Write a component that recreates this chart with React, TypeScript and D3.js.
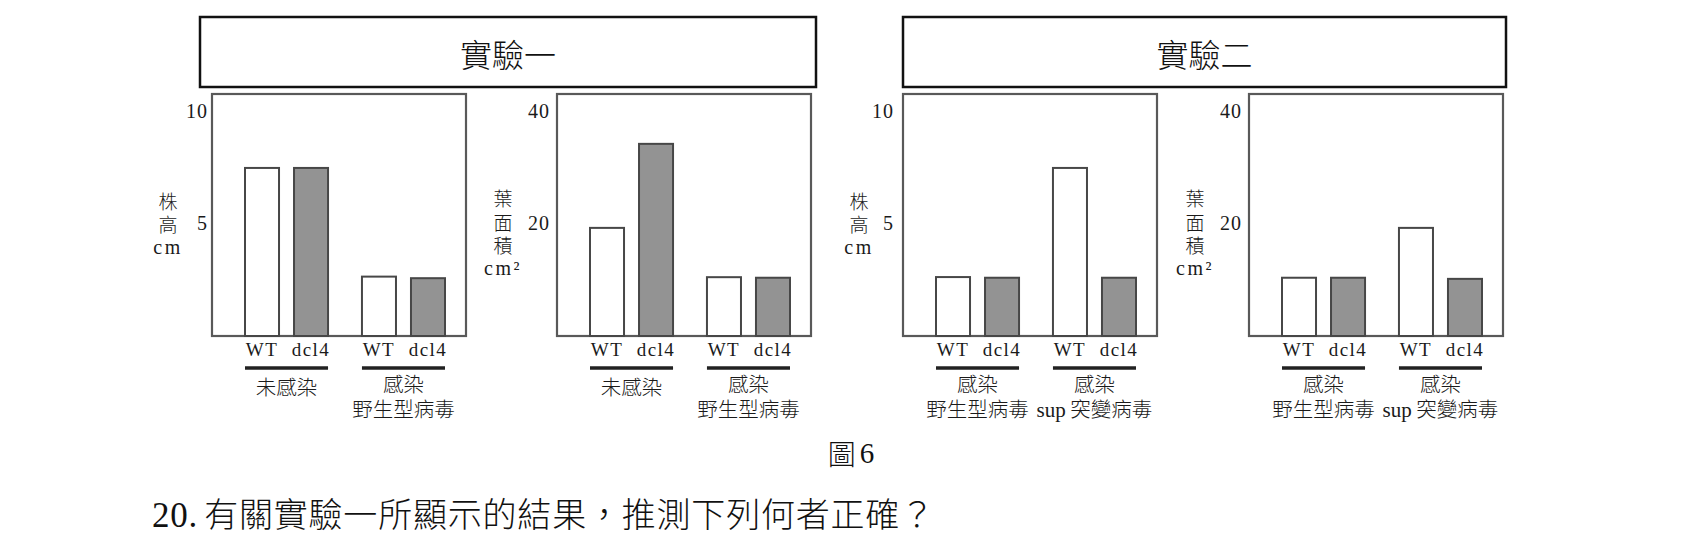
import React from "react";
import * as d3 from "d3";

// ---------- data ----------
const experimentTitles = ["實驗一", "實驗二"];
const genotypes = ["WT", "dcl4"];
const groupsExp1 = ["未感染", "感染\n野生型病毒"];
const groupsExp2 = ["感染\n野生型病毒", "感染\nsup 突變病毒"];
// values per group: [WT, dcl4]
const heightExp1 = [[7.5, 7.5], [2.65, 2.58]];
const leafExp1 = [[19.3, 34.3], [10.5, 10.4]];
const heightExp2 = [[2.63, 2.6], [7.5, 2.6]];
const leafExp2 = [[10.4, 10.4], [19.3, 10.2]];
const heightTicks = [5, 10];
const leafTicks = [20, 40];
const heightTitle = ["株", "高", "cm"];
const leafTitle = ["葉", "面", "積", "cm²"];
const figureLabel = "圖 6";
const questionText = "20. 有關實驗一所顯示的結果，推測下列何者正確？";

// ---------- layout ----------
const W = 1700;
const H = 539;
const frameTop = 94;
const frameBottom = 336;
const frameW = 254;
const SERIF = '"Liberation Serif", "Times New Roman", "Noto Sans CJK TC", serif';
const CJK = '"Noto Sans CJK TC", "Liberation Serif", sans-serif';

type Panel = {
  left: number;
  groups: string[];
  values: number[][];
  max: number;
  ticks: number[];
  title: string[];
  titleDx: number;
  titleYs: number[];
  tickGap: number;
};

const panels: Panel[] = [
  { left: 212, groups: groupsExp1, values: heightExp1, max: 10.8, ticks: heightTicks, title: heightTitle, titleDx: -44, titleYs: [202, 225, 247], tickGap: 4 },
  { left: 557, groups: groupsExp1, values: leafExp1, max: 43.2, ticks: leafTicks, title: leafTitle, titleDx: -54, titleYs: [199, 223, 246, 268], tickGap: 7 },
  { left: 903, groups: groupsExp2, values: heightExp2, max: 10.8, ticks: heightTicks, title: heightTitle, titleDx: -44, titleYs: [202, 225, 247], tickGap: 9 },
  { left: 1249, groups: groupsExp2, values: leafExp2, max: 43.2, ticks: leafTicks, title: leafTitle, titleDx: -54, titleYs: [199, 223, 246, 268], tickGap: 7 },
];

const titleBoxes = [
  { x0: 200, x1: 816 },
  { x0: 903, x1: 1506 },
];

function isCJK(s: string) {
  return /[\u3000-\u9fff\uff00-\uffef]/.test(s);
}

function PanelChart({ p }: { p: Panel }) {
  const y = d3.scaleLinear().domain([0, p.max]).range([frameBottom, frameTop]);
  const x0 = d3
    .scaleBand<number>()
    .domain(d3.range(p.groups.length))
    .range([p.left + 33, p.left + 233])
    .paddingInner(0.29);
  const x1 = d3
    .scaleBand<string>()
    .domain(genotypes)
    .range([0, x0.bandwidth()])
    .paddingInner(0.306);
  const tx = p.left + p.titleDx;

  return (
    <g>
      {/* frame */}
      <rect
        x={p.left}
        y={frameTop}
        width={frameW}
        height={frameBottom - frameTop}
        fill="#fff"
        stroke="#595959"
        strokeWidth={2.2}
      />
      {/* ticks */}
      {p.ticks.map((t) => (
        <text
          key={t}
          x={p.left - p.tickGap}
          y={y(t) - 1}
          textAnchor="end"
          dominantBaseline="central"
          fontFamily={SERIF}
          fontSize={20}
          letterSpacing={1}
          fill="#1a1a1a"
        >
          {t}
        </text>
      ))}
      {/* axis title (stacked) */}
      <text textAnchor="middle" fill="#1a1a1a" fontSize={19}>
        {p.title.map((s, i) => (
          <tspan
            key={i}
            x={tx}
            y={p.titleYs[i] + 7}
            fontFamily={isCJK(s) ? CJK : SERIF}
            fontWeight={isCJK(s) ? 300 : 400}
            fontSize={isCJK(s) ? 19 : 20}
            letterSpacing={isCJK(s) ? 0 : 2.5}
          >
            {s}
          </tspan>
        ))}
      </text>
      {/* bars */}
      {p.groups.map((g, gi) => (
        <g key={gi}>
          {genotypes.map((gt, k) => {
            const v = p.values[gi][k];
            const bx = (x0(gi) as number) + (x1(gt) as number);
            return (
              <rect
                key={gt}
                x={bx}
                y={y(v)}
                width={x1.bandwidth()}
                height={frameBottom - y(v)}
                fill={k === 0 ? "#ffffff" : "#939393"}
                stroke="#474747"
                strokeWidth={2}
              />
            );
          })}
          {genotypes.map((gt) => (
            <text
              key={"l" + gt}
              x={(x0(gi) as number) + (x1(gt) as number) + x1.bandwidth() / 2}
              y={356}
              textAnchor="middle"
              fontFamily={SERIF}
              fontSize={19}
              letterSpacing={1.5}
              fill="#1a1a1a"
            >
              {gt}
            </text>
          ))}
          <line
            x1={x0(gi) as number}
            x2={(x0(gi) as number) + x0.bandwidth()}
            y1={368}
            y2={368}
            stroke="#222"
            strokeWidth={3.5}
          />
          {(() => {
            const lines = g.split("\n");
            const cx = (x0(gi) as number) + x0.bandwidth() / 2;
            const ys = lines.length === 1 ? [388] : [385, 410];
            return (
              <text
                textAnchor="middle"
                fontFamily={CJK}
                fontWeight={300}
                fontSize={20.5}
                fill="#1a1a1a"
              >
                {lines.map((ln, li) => (
                  <tspan key={li} x={cx} y={ys[li] + 7}>
                    {ln.split(/(\s+)/).map((part, pi) =>
                      /^[A-Za-z]+$/.test(part) ? (
                        <tspan key={pi} fontFamily={SERIF} fontWeight={400} fontSize={21}>
                          {part}
                        </tspan>
                      ) : (
                        <tspan key={pi}>{part}</tspan>
                      )
                    )}
                  </tspan>
                ))}
              </text>
            );
          })()}
        </g>
      ))}
    </g>
  );
}

export default function App() {
  return (
    <svg
      width={W}
      height={H}
      viewBox={`0 0 ${W} ${H}`}
      style={{ position: "absolute", left: 0, top: 0, background: "#fff" }}
    >
      <rect x={0} y={0} width={W} height={H} fill="#fff" />
      {titleBoxes.map((b, i) => (
        <g key={i}>
          <rect
            x={b.x0}
            y={17}
            width={b.x1 - b.x0}
            height={70}
            fill="#fff"
            stroke="#111"
            strokeWidth={2.5}
          />
          <text
            x={(b.x0 + b.x1) / 2}
            y={53}
            textAnchor="middle"
            dominantBaseline="central"
            fontFamily={CJK}
            fontWeight={300}
            fontSize={32}
            fill="#111"
          >
            {experimentTitles[i]}
          </text>
        </g>
      ))}
      {panels.map((p, i) => (
        <PanelChart key={i} p={p} />
      ))}
      <text
        x={851}
        y={453}
        textAnchor="middle"
        dominantBaseline="central"
        fontFamily={CJK}
        fontWeight={300}
        fontSize={28}
        fill="#111"
      >
        {figureLabel.split(" ")[0]}
        <tspan fontFamily={SERIF} fontWeight={400} dx={4} fontSize={29}>
          {figureLabel.split(" ")[1]}
        </tspan>
      </text>
      <text
        x={152}
        y={527}
        fontFamily={CJK}
        fontWeight={300}
        fontSize={34}
        letterSpacing={0.8}
        fill="#111"
      >
        <tspan fontFamily={SERIF} fontWeight={400} fontSize={35}>
          {questionText.split(" ")[0]}
        </tspan>
        <tspan dx={6}>{questionText.split(" ").slice(1).join(" ")}</tspan>
      </text>
    </svg>
  );
}
